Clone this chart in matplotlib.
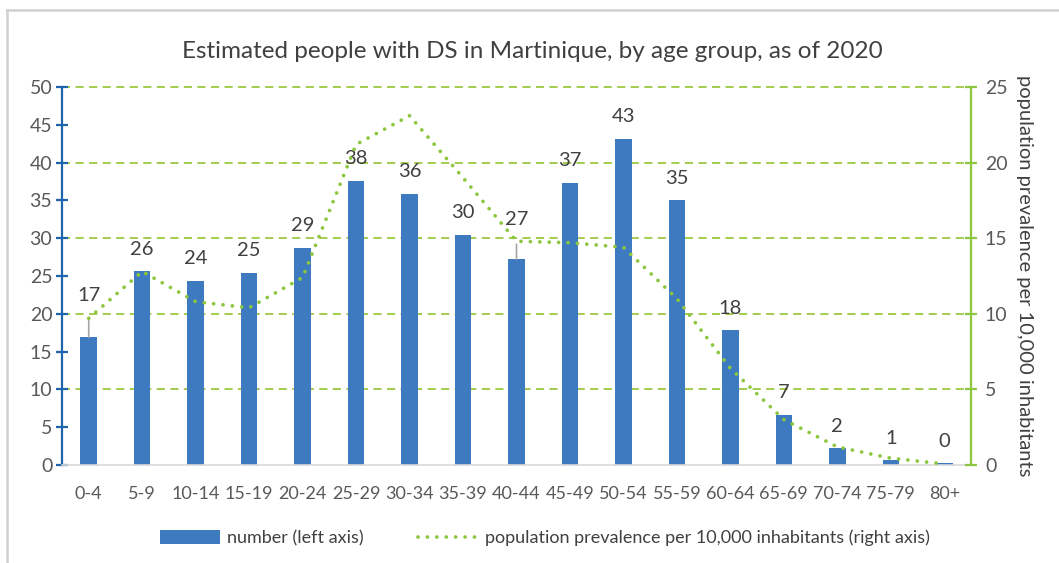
import numpy as np
import matplotlib
matplotlib.use("Agg")
import matplotlib.pyplot as plt
from matplotlib.lines import Line2D
from matplotlib.patches import Patch

plt.rcParams["font.family"] = ["Lato", "DejaVu Sans"]

age_groups = ["0-4", "5-9", "10-14", "15-19", "20-24", "25-29", "30-34", "35-39",
              "40-44", "45-49", "50-54", "55-59", "60-64", "65-69", "70-74", "75-79", "80+"]
number = [16.9, 25.6, 24.4, 25.4, 28.7, 37.6, 35.9, 30.4, 27.2, 37.3, 43.1, 35.0,
          17.8, 6.6, 2.2, 0.6, 0.2]
number_labels = ["17", "26", "24", "25", "29", "38", "36", "30", "27", "37", "43", "35",
                 "18", "7", "2", "1", "0"]
prevalence = [9.7, 12.8, 10.8, 10.4, 12.4, 21.2, 23.1, 19.0, 14.8, 14.7, 14.4, 11.0,
              6.4, 3.0, 1.2, 0.45, 0.07]

BLUE = "#3d7abf"
GREEN = "#8dc63f"
GRID = "#9cc840"
TXT = "#595959"

fig = plt.figure(figsize=(10.59, 5.63), dpi=100)
ax = fig.add_axes([62 / 1059, 1 - 465 / 563, (971 - 62) / 1059, (465 - 87) / 563])
ax2 = ax.twinx()

x = np.arange(len(age_groups))
ax.bar(x, number, width=0.31, color=BLUE, zorder=2)
ax.set_xlim(-0.5, len(age_groups) - 0.5)
ax.set_ylim(0, 50)
ax.set_yticks(np.arange(0, 51, 5))
ax.set_xticks(x)
ax.set_xticklabels(age_groups)

# gridlines (every 10 on left = every 5 on right)
for g in range(10, 51, 10):
    ax.axhline(g, color=GRID, lw=1.3, ls=(0, (4.5, 3)), zorder=1, clip_on=False)

# data labels, two of them lifted with a leader line
lifted = {0: 30, 8: 29}
for i, (v, lab) in enumerate(zip(number, number_labels)):
    if i in lifted:
        ax.annotate(lab, xy=(i, v), xytext=(0, lifted[i]), textcoords="offset points",
                    ha="center", va="center", fontsize=14.5, color="#404040",
                    arrowprops=dict(arrowstyle="-", color="#a6a6a6", lw=1.2,
                                    shrinkA=10, shrinkB=0))
    else:
        ax.annotate(lab, xy=(i, v), xytext=(0, 16), textcoords="offset points",
                    ha="center", va="center", fontsize=14.5, color="#404040")

ax2.plot(x, prevalence, color=GREEN, lw=2.7, ls=(0, (0.01, 2.5)),
         dash_capstyle="round", zorder=3)
ax2.set_ylim(0, 25)
ax2.set_yticks(np.arange(0, 26, 5))
ax2.set_ylabel("population prevalence per 10,000 inhabitants", rotation=-90,
               fontsize=14.5, color="#404040", labelpad=18)

for a in (ax, ax2):
    a.spines["top"].set_visible(False)
    a.set_facecolor("none")
ax.spines["right"].set_visible(False)
ax2.spines["left"].set_visible(False)
ax2.spines["bottom"].set_visible(False)
ax.spines["left"].set_color("#1f64ad")
ax.spines["left"].set_linewidth(1.6)
ax.spines["bottom"].set_color("#d9d9d9")
ax.spines["bottom"].set_linewidth(1.2)
ax2.spines["right"].set_color(GREEN)
ax2.spines["right"].set_linewidth(1.6)

ax.tick_params(axis="y", direction="inout", length=8, width=1.6, color="#1f64ad",
               labelsize=14, labelcolor=TXT, pad=3)
ax.tick_params(axis="x", length=0, labelsize=13, labelcolor=TXT, pad=15)
ax2.tick_params(axis="y", direction="inout", length=8, width=1.6, color=GREEN,
                labelsize=14, labelcolor=TXT, pad=6)

fig.text(532 / 1059, 1 - 52 / 563,
         "Estimated people with DS in Martinique, by age group, as of 2020",
         ha="center", va="center", fontsize=17.5, color="#404040")

handles = [Patch(facecolor=BLUE, edgecolor="none"),
           Line2D([0], [0], color=GREEN, lw=2.7, ls=(0, (0.01, 2.5)), dash_capstyle="round")]
fig.legend(handles, ["number (left axis)",
                     "population prevalence per 10,000 inhabitants (right axis)"],
           loc="center", bbox_to_anchor=(545 / 1059, 1 - 538 / 563), ncol=2,
           frameon=False, fontsize=13, labelcolor="#404040", handlelength=3.3,
           handleheight=0.75, columnspacing=3.0, handletextpad=0.4)

# outer frame (top and left edges only visible)
fig.add_artist(Line2D([7 / 1059, 1], [1 - 10 / 563, 1 - 10 / 563],
                      transform=fig.transFigure, color="#d0d0d0", lw=1.8))
fig.add_artist(Line2D([7 / 1059, 7 / 1059], [0, 1 - 10 / 563],
                      transform=fig.transFigure, color="#d0d0d0", lw=1.8))

fig.savefig("out.png", dpi=100)
